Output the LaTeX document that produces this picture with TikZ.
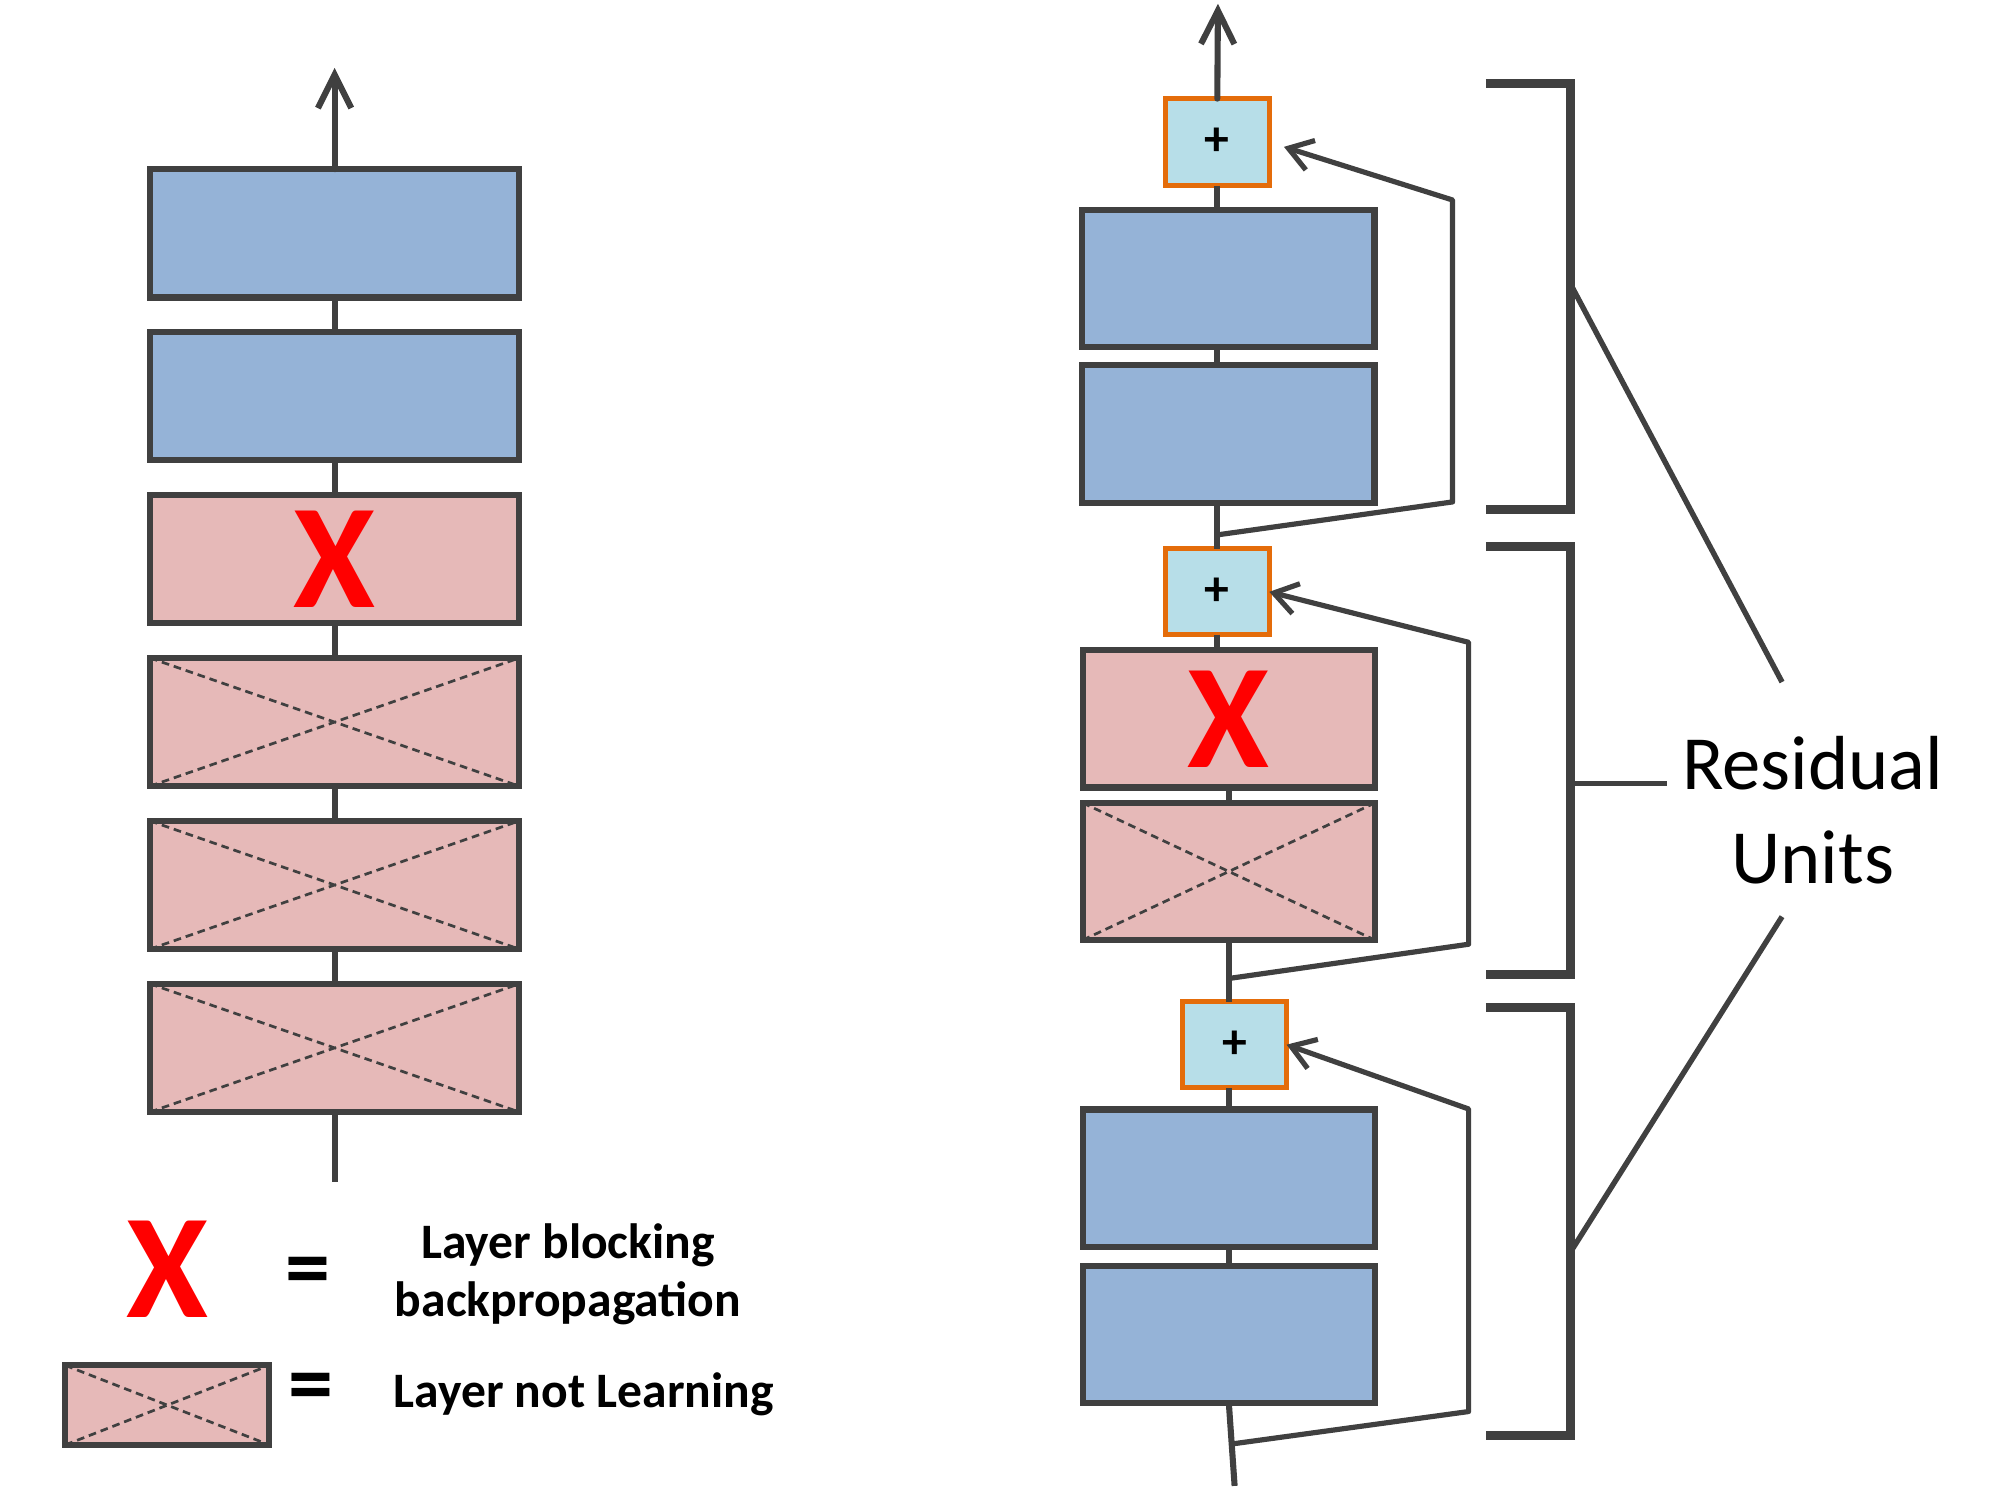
\documentclass[tikz,border=0pt]{standalone}
\usepackage{fontspec}
\setmainfont{Carlito}
\usepackage{tikz}
\usetikzlibrary{arrows.meta, positioning}
\usepackage{xcolor}
\definecolor{layerblue}{HTML}{95B3D7}
\definecolor{layerpink}{HTML}{E6B9B8}
\definecolor{linegray}{HTML}{404040}
\definecolor{addfill}{HTML}{B7DEE8}
\definecolor{addedge}{HTML}{E46C0A}

\begin{document}
\begin{tikzpicture}[
    x=0.01cm, y=-0.01cm,
    every node/.style={inner sep=0pt, outer sep=0pt},
    layer/.style={draw=linegray, line width=1.35pt, fill=layerblue, minimum width=2.88cm, minimum height=1cm},
    rlayer/.style={layer, minimum width=2.28cm, minimum height=1.07cm},
    blocked/.style={fill=layerpink},
    frozen/.style={fill=layerpink, path picture={
        \draw[linegray, line width=0.6pt, dash pattern=on 1.7pt off 1.1pt]
            (path picture bounding box.north west) -- (path picture bounding box.south east)
            (path picture bounding box.south west) -- (path picture bounding box.north east);}},
    addbox/.style={draw=addedge, line width=1.15pt, fill=addfill, minimum width=0.81cm, minimum height=0.68cm, font=\bfseries\fontsize{11}{13}\selectfont},
    stopmark/.style={text=red, font=\bfseries\fontsize{33}{33}\selectfont},
    eqsign/.style={font=\bfseries\fontsize{20}{20}\selectfont},
    keytext/.style={font=\bfseries\fontsize{11}{12.8}\selectfont},
    arrow/.style={-{Straight Barb[length=0.26cm, width=0.26cm]}, linegray, line width=1.35pt, line cap=round, line join=round},
    flow/.style={linegray, line width=1.35pt},
    skip/.style={-{Straight Barb[length=0.18cm, width=0.24cm]}, linegray, line width=1.15pt, line cap=round, line join=round},
    brace/.style={linegray, line width=2pt},
    pointer/.style={linegray, line width=1.2pt}
]
\useasboundingbox (0,0) rectangle (1560,1170);

% Plain stack
\node[layer] (L1) at (261,182) {};
\node[layer, below=0.27cm of L1] (L2) {};
\node[layer, blocked, stopmark, below=0.27cm of L2] (L3) {X};
\node[layer, frozen, below=0.27cm of L3] (L4) {};
\node[layer, frozen, below=0.27cm of L4] (L5) {};
\node[layer, frozen, below=0.27cm of L5] (L6) {};
\coordinate (outL) at (261,53);
\coordinate (inL) at (261,922);

\draw[arrow] (L1.north) -- (outL);
\draw[flow] (L1) -- (L2);
\draw[flow] (L2) -- (L3);
\draw[flow] (L3) -- (L4);
\draw[flow] (L4) -- (L5);
\draw[flow] (L5) -- (L6);
\draw[flow] (L6.south) -- (inL);

% Residual stack
\node[rlayer] (R1) at (958,217) {};
\node[addbox, above=0.185cm of R1, xshift=-0.085cm] (P1) {+};
\node[rlayer, below=0.145cm of R1] (R2) {};
\node[addbox, minimum height=0.67cm, below=0.36cm of R2, xshift=-0.085cm] (P2) {+};
\node[rlayer, blocked, stopmark, below=0.12cm of P2, xshift=0.09cm] (RX) {X};
\node[rlayer, frozen, below=0.12cm of RX] (RC) {};
\node[addbox, minimum height=0.67cm, below=0.48cm of RC, xshift=0.045cm] (P3) {+};
\node[rlayer, below=0.17cm of P3, xshift=-0.045cm] (R3) {};
\node[rlayer, below=0.15cm of R3] (R4) {};
\coordinate (outR) at (950,3);
\coordinate (inR) at (963,1159);

\draw[arrow] (P1.north) -- (outR);
\draw[flow] (P1.south) -- (P1.south |- R1.north);
\draw[flow] (R1.south -| P1.south) -- (R2.north -| P1.south);
\draw[flow] (R2.south -| P2.north) -- (P2.north);
\draw[flow] (P2.south) -- (P2.south |- RX.north);
\draw[flow] (RX) -- (RC);
\draw[flow] (RC.south) -- (RC.south |- P3.north);
\draw[flow] (R3.north) -- (R3.north |- P3.south);
\draw[flow] (R3) -- (R4);
\draw[flow] (R4.south) -- (inR);

% Shortcuts
\coordinate (s1) at (951,417);
\coordinate (s2) at (960,763);
\coordinate (s3) at (963,1126);
\draw[skip, shorten >=0.12cm] (s1) -- (1133,391.5) -- (1133,156) -- (P1.east);
\draw[skip] (s2) -- (1145.5,736.5) -- (1145.5,501) -- (P2.east);
\draw[skip] (s3) -- (1145.5,1101) -- (1145.5,865) -- (P3.east);

% Brackets and label
\draw[brace] (1159,65) -| (1225,397.5) -- (1159,397.5);
\draw[brace] (1159,426) -| (1225,760) -- (1159,760);
\draw[brace] (1159,786) -| (1225,1120) -- (1159,1120);

\node[font=\fontsize{17}{21}\selectfont, align=center] (RU) at (1414,632) {Residual\\Units};
\coordinate (m1) at (1226,223.5);
\coordinate (m2) at (1226,611);
\coordinate (m3) at (1226,975);
\coordinate (e1) at (1390,532);
\coordinate (e2) at (1300,611);
\coordinate (e3) at (1390,715);
\draw[pointer] (m1) -- (e1);
\draw[pointer] (m2) -- (e2);
\draw[pointer] (m3) -- (e3);

% Legend
\node[stopmark] (keyX) at (130.5,990) {X};
\node[eqsign] (eq1) at (240,996) {=};
\node[keytext, align=center] (keyblock) at (443,994) {Layer blocking\\backpropagation};
\node[layer, frozen, minimum width=1.59cm, minimum height=0.62cm] (keybox) at (130.5,1096) {};
\node[eqsign] (eq2) at (242.5,1086.5) {=};
\node[keytext, anchor=base west] (keyfrozen) at (307,1098) {Layer not Learning};

\end{tikzpicture}
\end{document}
